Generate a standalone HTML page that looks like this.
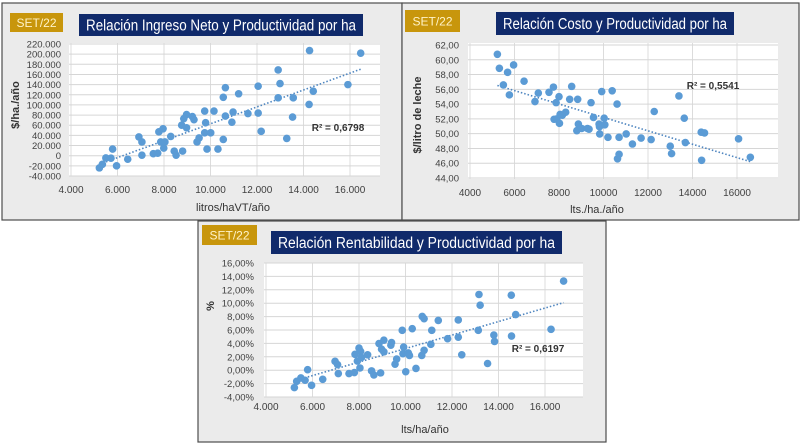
<!DOCTYPE html>
<html><head><meta charset="utf-8"><style>
html,body{margin:0;padding:0;background:#fff;width:800px;height:448px;overflow:hidden}
svg{display:block;font-family:"Liberation Sans",sans-serif}
</style></head><body>
<svg id="root" width="800" height="448" viewBox="0 0 800 448"></svg>
<script>
// ---- Chart 1: Ingreso Neto ----
const ingresoX=[5220,5350,5500,5720,5790,5960,6440,6920,7050,7050,7540,7730,7780,7860,7960,7990,8040,8290,8440,8520,8760,8800,8850,8970,8970,9220,9290,9420,9510,9750,9790,9750,9850,10010,10150,10320,10550,10550,10640,10640,10920,10970,11210,11610,12050,12050,12180,12910,12910,12990,13280,13530,13560,14240,14260,14420,15910,16460];
const ingresoY=[-24000,-17000,-4500,-5000,13000,-20000,-7000,37000,27000,1000,4000,5000,47000,27000,53000,15000,27000,38000,9000,1000,60000,9000,73000,81000,55000,77000,71000,27000,35000,88000,65000,45000,13000,45000,88000,13000,32000,115000,134000,78000,66000,86000,122000,83000,137000,84000,48000,169000,114000,142000,34000,76000,114000,101000,207000,127000,140000,202000];
const ingresoYTicks=[-40000,-20000,0,20000,40000,60000,80000,100000,120000,140000,160000,180000,200000,220000];
const ingresoXTicks=[4000,6000,8000,10000,12000,14000,16000];
// ---- Chart 2: Costo ----
const costoX=[5230,5320,5500,5690,5770,5960,6430,6920,7070,7550,7750,7870,7780,7900,8000,8020,8050,8150,8300,8480,8570,8840,8800,8870,9020,9280,9350,9440,9550,9800,9820,9830,9920,10030,10060,10200,10390,10610,10630,10700,10700,11020,11300,11690,12140,12280,13000,13060,13390,13630,13680,14390,14410,14540,16070,16600];
const costoY=[60.74,58.85,56.6,58.3,55.25,59.3,57.1,54.35,55.5,55.6,56.3,54.2,51.95,52.0,55.0,51.4,52.6,52.5,52.9,54.65,56.4,54.65,50.4,51.3,50.7,50.7,50.6,54.2,52.2,51.3,50.95,49.97,55.7,52.1,51.2,49.5,55.8,54.0,46.6,47.2,49.5,49.97,48.6,49.4,49.2,53.0,48.3,47.3,55.1,52.1,48.8,50.2,46.4,50.1,49.3,46.8];
const costoYTicks=[44,46,48,50,52,54,56,58,60,62];
const costoXTicks=[4000,6000,8000,10000,12000,14000,16000];
// ---- Chart 3: Rentabilidad ----
const rentX=[5220,5320,5500,5680,5790,5960,6440,6970,7080,7110,7570,7800,7830,7930,8000,8040,8070,8110,8370,8540,8640,8860,8930,8970,9070,9070,9370,9400,9550,9620,9860,9920,9890,10010,10120,10170,10290,10450,10700,10720,10800,10800,11130,11090,11410,11810,12270,12270,12420,13130,13160,13210,13530,13800,13830,14550,14560,14740,16260,16800];
const rentY=[-2.6,-1.66,-1.16,-1.5,0.08,-2.26,-1.36,1.32,0.82,-0.5,-0.5,-0.35,2.37,1.37,3.3,0.33,2.8,1.9,2.3,-0.1,-0.7,3.98,-0.4,3.13,4.48,2.74,3.73,4.13,0.9,1.67,5.95,3.46,2.47,-0.23,2.57,2.2,6.2,0.27,2.2,8.03,7.68,2.97,5.95,3.86,7.43,4.7,7.5,4.93,2.3,5.95,11.3,9.7,1.0,5.25,4.3,11.2,5.1,8.3,6.1,13.3];
const rentYTicks=[-4,-2,0,2,4,6,8,10,12,14,16];
const rentXTicks=[4000,6000,8000,10000,12000,14000,16000];

const NS="http://www.w3.org/2000/svg";
const root=document.getElementById('root');
function mk(tag,attrs,parent){const e=document.createElementNS(NS,tag);for(const k in attrs)e.setAttribute(k,attrs[k]);(parent||root).appendChild(e);return e;}
function dotFmt(v){const s=Math.abs(v).toString().replace(/\B(?=(\d{3})+(?!\d))/g,'.');return (v<0?'-':'')+s;}
function comma2(v){return v.toFixed(2).replace('.',',');}
function linreg(xs,ys){const n=xs.length;let sx=0,sy=0,sxx=0,sxy=0;for(let i=0;i<n;i++){sx+=xs[i];sy+=ys[i];sxx+=xs[i]*xs[i];sxy+=xs[i]*ys[i];}const b=(n*sxy-sx*sy)/(n*sxx-sx*sx);return {b:b,a:(sy-b*sx)/n};}

function drawChart(c,xs,ys,yTicks,xTicks){
  const g=mk('g',{});
  
  
  const panel=mk('rect',{x:c.px,y:c.py,width:c.pw,height:c.ph,fill:'#ebebeb',stroke:'#4d4d4d','stroke-width':1.2},g);
  
  
  const sb=mk('rect',{x:c.sx,y:c.sy,width:c.sw,height:c.sh,fill:'#c8960c'},g);
  
  
  const st=mk('text',{x:c.sx+c.sw/2,y:c.sy+c.sh/2+4.5,'text-anchor':'middle','font-size':12,fill:'#fff3c8'},g);st.textContent='SET/22';
  
  
  const tb=mk('rect',{x:c.tx,y:c.ty,width:c.tw,height:c.th,fill:'#102a6b'},g);
  
  
  const tt=mk('text',{x:c.tx+c.tw/2,y:c.ty+c.th/2+5.5,'text-anchor':'middle','font-size':15.5,fill:'#fff',textLength:c.tw-14,lengthAdjust:'spacingAndGlyphs'},g);tt.textContent=c.title;
  
  
  const pa=mk('rect',{x:c.ax,y:c.ay,width:c.aw,height:c.ah,fill:'#fff'},g);
  
  
  const X=v=>c.x0+(v-c.xv0)*(c.x1-c.x0)/(c.xv1-c.xv0);
  const Y=v=>c.y0+(v-c.yv0)*(c.y1-c.y0)/(c.yv1-c.yv0);
  xTicks.forEach(t=>{
    const l=mk('line',{x1:X(t),x2:X(t),y1:c.ay,y2:c.ay+c.ah,stroke:'#dcdcdc','stroke-width':1},g);
    
    
    const tx=mk('text',{x:X(t),y:c.xly,'text-anchor':'middle','font-size':10,fill:'#404040'},g);tx.textContent=c.xf(t);
    
    
  });
  yTicks.forEach(t=>{
    const l=mk('line',{x1:c.ax,x2:c.ax+c.aw,y1:Y(t),y2:Y(t),stroke:'#d6d6d6','stroke-width':1},g);
    
    
    const tx=mk('text',{x:c.yl,y:Y(t)+3.5,'text-anchor':'end','font-size':9.5,fill:'#404040'},g);tx.textContent=c.yf(t);
    
    
  });
  const r=linreg(xs,ys);
  const mn=Math.min(...xs),mx=Math.max(...xs);
  const tl=mk('line',{x1:X(mn),y1:Y(r.a+r.b*mn),x2:X(mx),y2:Y(r.a+r.b*mx),stroke:'#4f86c0','stroke-width':1.6,'stroke-dasharray':'1.5 2'},g);
  
  
  xs.forEach((v,i)=>{
    const p=mk('circle',{cx:X(v),cy:Y(ys[i]),r:3.8,fill:'#5b9bd5'},g);
    
    
  });
  const rl=mk('text',{x:c.rx,y:c.ry,'text-anchor':'middle','font-size':10,'font-weight':'bold',fill:'#333'},g);rl.textContent=c.r2;
  
  
  const xt=mk('text',{x:c.xtx,y:c.xty,'text-anchor':'middle','font-size':11,fill:'#333'},g);xt.textContent=c.xtitle;
  
  
  const yt=mk('text',{x:0,y:0,'text-anchor':'middle','font-size':11,'font-weight':'bold',fill:'#333',transform:'translate('+c.ytx+','+c.yty+') rotate(-90)'},g);yt.textContent=c.ytitle;
  
  
}

drawChart({name:'ingreso-chart',px:2,py:3,pw:400,ph:217,sx:10,sy:13,sw:53,sh:19,tx:79,ty:14,tw:284,th:22,title:'Relación Ingreso Neto y Productividad por ha',
 ax:69,ay:43,aw:311,ah:133,x0:71,x1:350,xv0:4000,xv1:16000,y0:176,y1:44,yv0:-40000,yv1:220000,
 xf:dotFmt,yf:dotFmt,xly:193,yl:61,rx:338,ry:131,r2:'R² = 0,6798',xtitle:'litros/haVT/año',xtx:233,xty:211,ytitle:'$/ha./año',ytx:19,yty:105},ingresoX,ingresoY,ingresoYTicks,ingresoXTicks);

drawChart({name:'costo-chart',px:402,py:3,pw:397,ph:217,sx:405,sy:10,sw:55,sh:22,tx:496,ty:12,tw:238,th:23,title:'Relación Costo y Productividad por ha',
 ax:468,ay:43,aw:310,ah:136,x0:470,x1:737,xv0:4000,xv1:16000,y0:178,y1:45,yv0:44,yv1:62,
 xf:v=>String(v),yf:comma2,xly:196,yl:459,rx:713,ry:89,r2:'R² = 0,5541',xtitle:'lts./ha./año',xtx:597,xty:213,ytitle:'$/litro de leche',ytx:421,yty:115},costoX,costoY,costoYTicks,costoXTicks);

drawChart({name:'rentabilidad-chart',px:198,py:221,pw:408,ph:221,sx:202,sy:225,sw:55,sh:20,tx:271,ty:231,tw:291,th:23,title:'Relación Rentabilidad y Productividad por ha',
 ax:264,ay:263,aw:319,ah:134,x0:266,x1:545,xv0:4000,xv1:16000,y0:397,y1:263,yv0:-4,yv1:16,
 xf:dotFmt,yf:v=>comma2(v)+'%',xly:410,yl:254,rx:538,ry:352,r2:'R² = 0,6197',xtitle:'lts/ha/año',xtx:425,xty:433,ytitle:'%',ytx:214,yty:306},rentX,rentY,rentYTicks,rentXTicks);
</script>
</body></html>
